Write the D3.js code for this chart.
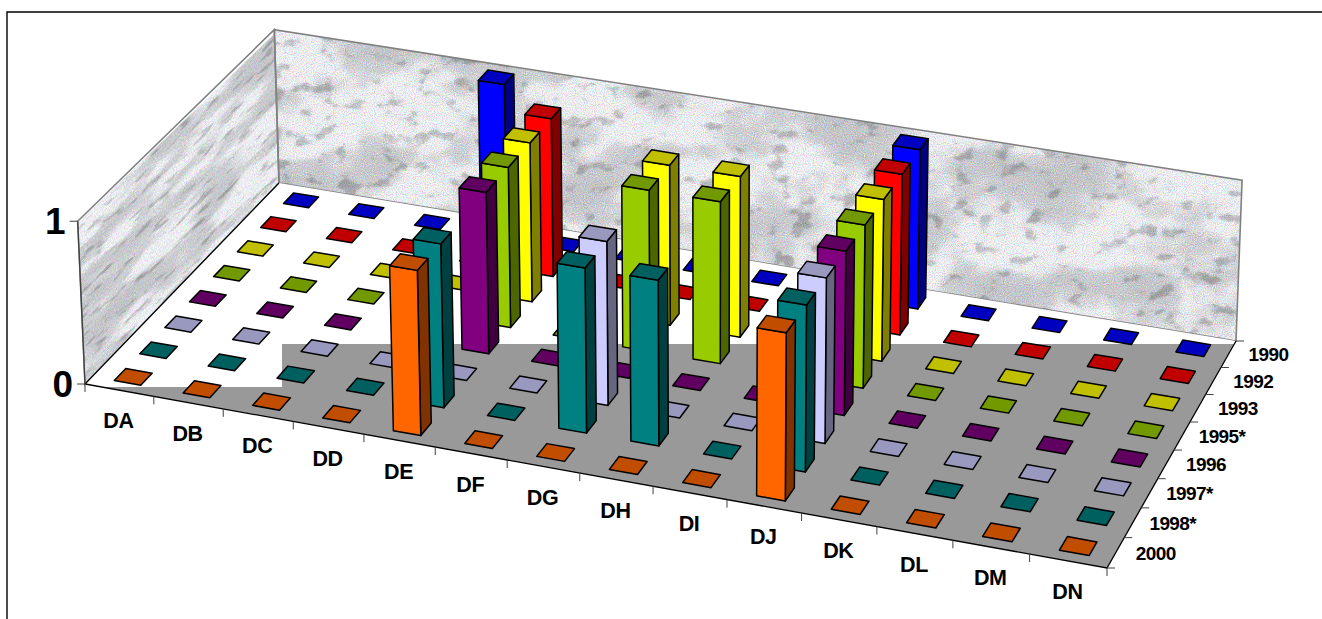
<!DOCTYPE html>
<html>
<head>
<meta charset="utf-8">
<title>3D bars</title>
<script src="https://d3js.org/d3.v7.min.js"></script>
<style>
  html, body { margin: 0; padding: 0; background: #fff; }
  svg { display: block; }
  text { font-family: "Liberation Sans", Arial, sans-serif; font-weight: bold; fill: #000; }
</style>
</head>
<body>
<svg id="chart" width="1322" height="619"></svg>
<script>
// categories and years, back row first
var categories = ["DA","DB","DC","DD","DE","DF","DG","DH","DI","DJ","DK","DL","DM","DN"];
var years = ["1990","1992","1993","1995*","1996","1997*","1998*","2000"];

// one value per category, per year
var v1990 = [0,0,0,1,0,0,0,0,0,1,0,0,0,0];
var v1992 = [0,0,0,0,1,0,0,0,0,1,0,0,0,0];
var v1993 = [0,0,0,0,1,0,1,1,0,1,0,0,0,0];
var v1995 = [0,0,0,0,1,0,1,1,0,1,0,0,0,0];
var v1996 = [0,0,0,0,1,0,0,0,0,1,0,0,0,0];
var v1997 = [0,0,0,0,0,0,1,0,0,1,0,0,0,0];
var v1998 = [0,0,0,0,1,0,1,1,0,1,0,0,0,0];
var v2000 = [0,0,0,0,1,0,0,0,0,1,0,0,0,0];
var values = [v1990, v1992, v1993, v1995, v1996, v1997, v1998, v2000];

var zTicks = [0, 1];

// front, top, side colours per year
var frontColors = ["#0000ff","#ff0000","#ffff00","#99cc00","#800080","#ccccff","#008080","#ff6600"];
var topColors   = ["#0000c0","#c00000","#c0c000","#739900","#600060","#9999c0","#006060","#c04d00"];
var sideColors  = ["#000080","#800000","#808000","#4d6600","#400040","#666680","#004040","#803300"];

var svg = d3.select("#chart");

// camera: floor corners on screen (front left, front right, back right, back left)
var floor = [[85,384],[1107,568],[1236,341],[279,183]];
// tops of the walls at front left, back left, back right
var wallTops = [[[0,0],[77,221]], [[0,1],[275,30]], [[1,1],[1242,180]]];

var H = (function () {
    var x0=floor[0][0], y0=floor[0][1], x1=floor[1][0], y1=floor[1][1];
    var x2=floor[2][0], y2=floor[2][1], x3=floor[3][0], y3=floor[3][1];
    var dx1=x1-x2, dx2=x3-x2, sx=x0-x1+x2-x3;
    var dy1=y1-y2, dy2=y3-y2, sy=y0-y1+y2-y3;
    var det=dx1*dy2-dx2*dy1;
    var g=(sx*dy2-dx2*sy)/det, h=(dx1*sy-sx*dy1)/det;
    return [x1-x0+g*x1, x3-x0+h*x3, x0, y1-y0+g*y1, y3-y0+h*y3, y0, g, h, 1];
})();

function floorH(u, v) {
    return [H[0]*u+H[1]*v+H[2], H[3]*u+H[4]*v+H[5], H[6]*u+H[7]*v+H[8]];
}

// vertical column of the projection, least squares on the wall tops
var Z = (function () {
    var rows = [];
    wallTops.forEach(function (t) {
        var p = floorH(t[0][0], t[0][1]);
        rows.push({ s: t[1][0], t: t[1][0]*p[2]-p[0], k: 0 });
        rows.push({ s: t[1][1], t: t[1][1]*p[2]-p[1], k: 1 });
    });
    var num = 0, den = 0, means = [0, 1].map(function (k) {
        var r = rows.filter(function (d) { return d.k === k; });
        return { s: d3.mean(r, function (d) { return d.s; }), t: d3.mean(r, function (d) { return d.t; }) };
    });
    rows.forEach(function (d) {
        var m = means[d.k];
        num += (d.s-m.s)*(d.t-m.t);
        den += (d.s-m.s)*(d.s-m.s);
    });
    var C = -num/den;
    return [means[0].t+C*means[0].s, means[1].t+C*means[1].s, C];
})();

function project(u, v, z) {
    var p = floorH(u, v);
    var w = p[2]+z*Z[2];
    return [(p[0]+z*Z[0])/w, (p[1]+z*Z[1])/w];
}

var x = d3.scaleBand().domain(categories).range([0, 1]).paddingInner(0.615).paddingOuter(0.3075).align(0.525);
var y = d3.scaleBand().domain(years.slice().reverse()).range([0, 1]).paddingInner(0.55).paddingOuter(0.275);
var z = d3.scaleLinear().domain([0, 1]).range([0, 1]);

var poly = d3.line();
function closed(pts) { return poly(pts) + "Z"; }

// marble texture
var defs = svg.append("defs");
function marble(id, fx, fy, seed) {
    var f = defs.append("filter").attr("id", id)
        .attr("filterUnits", "userSpaceOnUse")
        .attr("x", 0).attr("y", 0).attr("width", 1100).attr("height", 400)
        .attr("color-interpolation-filters", "sRGB");
    f.append("feTurbulence").attr("type", "fractalNoise")
        .attr("baseFrequency", fx + " " + fy).attr("numOctaves", 4).attr("seed", seed).attr("result", "n1");
    f.append("feColorMatrix").attr("in", "n1").attr("type", "matrix")
        .attr("values", "1 0 0 0 0  1 0 0 0 0  1 0 0 0 0  0 0 0 0 1").attr("result", "g1");
    var t1 = f.append("feComponentTransfer").attr("in", "g1").attr("result", "cloud");
    var greys = [.78,.78,.78,.78,.78,.78,.79,.80,.81,.83,.87,.92,.94,.94,.94,.94,.94,.94,.94,.94,.94];
    [["feFuncR",0],["feFuncG",0.005],["feFuncB",0.02]].forEach(function (d) {
        t1.append(d[0]).attr("type", "table").attr("tableValues", greys.map(function (g) { return g+d[1]; }).join(" "));
    });
    // small dark flecks
    f.append("feTurbulence").attr("type", "fractalNoise")
        .attr("baseFrequency", (fx*4) + " " + (fy*4)).attr("numOctaves", 3).attr("seed", seed+3).attr("result", "n2");
    f.append("feColorMatrix").attr("in", "n2").attr("type", "matrix")
        .attr("values", "1 0 0 0 0  1 0 0 0 0  1 0 0 0 0  0 0 0 0 1").attr("result", "g2");
    var t2 = f.append("feComponentTransfer").attr("in", "g2").attr("result", "vein");
    ["feFuncR","feFuncG","feFuncB"].forEach(function (c) {
        t2.append(c).attr("type", "table").attr("tableValues", "0.78 0.78 0.78 0.84 0.98 1 1 1 1 1 1");
    });
    f.append("feBlend").attr("in", "cloud").attr("in2", "vein").attr("mode", "multiply").attr("result", "base");
    f.append("feTurbulence").attr("type", "fractalNoise")
        .attr("baseFrequency", "0.9").attr("numOctaves", 1).attr("seed", seed+5).attr("result", "n3");
    f.append("feColorMatrix").attr("in", "n3").attr("type", "matrix")
        .attr("values", "0.5 0 0 0 0.5  0 0.5 0 0 0.5  0 0 0.5 0 0.5  0 0 0 0 1").attr("result", "grain");
    f.append("feBlend").attr("in", "base").attr("in2", "grain").attr("mode", "multiply").attr("result", "mixed");
    var t3 = f.append("feComponentTransfer").attr("in", "mixed");
    ["feFuncR","feFuncG","feFuncB"].forEach(function (c) {
        t3.append(c).attr("type", "linear").attr("slope", 1.32).attr("intercept", 0);
    });
}
marble("marbleBack", 0.011, 0.016, 11);
marble("marbleLeft", 0.012, 0.035, 4);

var backWall = [project(0,1,0), project(0,1,1), project(1,1,1), project(1,1,0)];
var leftWall = [project(0,0,0), project(0,0,1), project(0,1,1), project(0,1,0)];

defs.append("clipPath").attr("id", "clipBack").append("path").attr("d", closed(backWall));
defs.append("clipPath").attr("id", "clipLeft").append("path").attr("d", closed(leftWall));
defs.append("clipPath").attr("id", "clipFloor").append("path").attr("d", closed(floor));

svg.append("g").attr("clip-path", "url(#clipBack)")
    .append("rect").attr("x", 0).attr("y", 0).attr("width", 1100).attr("height", 400)
    .attr("transform", "translate(270,20)").attr("filter", "url(#marbleBack)");

// left wall texture runs along the wall, so shear it
svg.append("g").attr("clip-path", "url(#clipLeft)")
    .append("g").attr("transform", "matrix(1,-0.96,0,1,70,230)")
    .append("rect").attr("x", 0).attr("y", 0).attr("width", 240).attr("height", 400)
    .attr("filter", "url(#marbleLeft)");

svg.selectAll(".wall").data([backWall, leftWall]).enter().append("path")
    .attr("class", "wall").attr("d", closed)
    .attr("fill", "none").attr("stroke", "#808080").attr("stroke-width", 1.6);

// floor, the grey part stops short of the back like in the original
svg.append("path").attr("d", closed(floor)).attr("fill", "#fff");
var grey = svg.append("g").attr("clip-path", "url(#clipFloor)");
grey.append("rect").attr("x", 282).attr("y", 344).attr("width", 1040).attr("height", 275).attr("fill", "#999999");
grey.append("rect").attr("x", 0).attr("y", 387).attr("width", 282).attr("height", 232).attr("fill", "#999999");

// axis edges
var axes = svg.append("g").attr("stroke", "#000").attr("stroke-width", 1.3).attr("fill", "none");
axes.append("path").attr("d", poly([project(0,1,0), project(0,0,0), project(1,0,0), project(1,1,0)]));
axes.append("path").attr("d", poly([project(0,0,0), project(0,0,1)])).attr("stroke", "#404040");

// category ticks
d3.range(categories.length + 1).forEach(function (i) {
    var p = project(i/categories.length, 0, 0);
    axes.append("line").attr("stroke-width", 1).attr("stroke", "#404040")
        .attr("x1", p[0]).attr("y1", p[1]).attr("x2", p[0]).attr("y2", p[1]+8);
});
// year ticks
d3.range(years.length + 1).forEach(function (i) {
    var p = project(1, i/years.length, 0);
    axes.append("line").attr("stroke-width", 1).attr("stroke", "#404040")
        .attr("x1", p[0]).attr("y1", p[1]).attr("x2", p[0]+8).attr("y2", p[1]);
});
// value ticks
zTicks.forEach(function (t) {
    var p = project(0, 0, z(t));
    axes.append("line").attr("stroke-width", 1).attr("stroke", "#404040")
        .attr("x1", p[0]-8).attr("y1", p[1]).attr("x2", p[0]).attr("y2", p[1]);
    svg.append("text").attr("x", p[0]-12).attr("y", p[1]+13)
        .attr("text-anchor", "end").attr("font-size", 37).text(t);
});

// cells, back row first and left to right
var cells = [];
years.forEach(function (yr, r) {
    categories.forEach(function (cat, c) {
        cells.push({ cat: cat, year: yr, row: r, value: values[r][c] });
    });
});

var bars = svg.selectAll(".cell").data(cells).enter().append("g").attr("class", "cell")
    .attr("stroke", "#000").attr("stroke-width", 1.5).attr("stroke-linejoin", "round");

bars.each(function (d) {
    var g = d3.select(this);
    var u0 = x(d.cat), u1 = u0 + x.bandwidth();
    var v0 = y(d.year), v1 = v0 + y.bandwidth();
    var h = z(d.value);
    if (d.value > 0) {
        g.append("path").attr("fill", sideColors[d.row])
            .attr("d", closed([project(u1,v0,0), project(u1,v1,0), project(u1,v1,h), project(u1,v0,h)]));
        g.append("path").attr("fill", frontColors[d.row])
            .attr("d", closed([project(u0,v0,0), project(u1,v0,0), project(u1,v0,h), project(u0,v0,h)]));
    }
    g.append("path").attr("fill", topColors[d.row])
        .attr("d", closed([project(u0,v0,h), project(u1,v0,h), project(u1,v1,h), project(u0,v1,h)]));
});

// labels
svg.selectAll(".catLabel").data(categories).enter().append("text")
    .attr("class", "catLabel").attr("font-size", 21.5).attr("letter-spacing", -0.4).attr("text-anchor", "middle")
    .attr("x", function (d) { return project(x(d)+x.bandwidth()/2, 0, 0)[0]-2; })
    .attr("y", function (d) { return project(x(d)+x.bandwidth()/2, 0, 0)[1]+38; })
    .text(function (d) { return d; });

svg.selectAll(".yearLabel").data(years).enter().append("text")
    .attr("class", "yearLabel").attr("font-size", 19).attr("letter-spacing", -0.6).attr("text-anchor", "middle")
    .attr("x", function (d) { return project(1, y(d)+y.bandwidth()/2, 0)[0]+40; })
    .attr("y", function (d) { return project(1, y(d)+y.bandwidth()/2, 0)[1]+7; })
    .text(function (d) { return d; });

// outer frame: only top and left show
svg.append("path").attr("d", poly([[7,619],[7,12],[1322,12]]))
    .attr("fill", "none").attr("stroke", "#000").attr("stroke-width", 1.4);
</script>
</body>
</html>
